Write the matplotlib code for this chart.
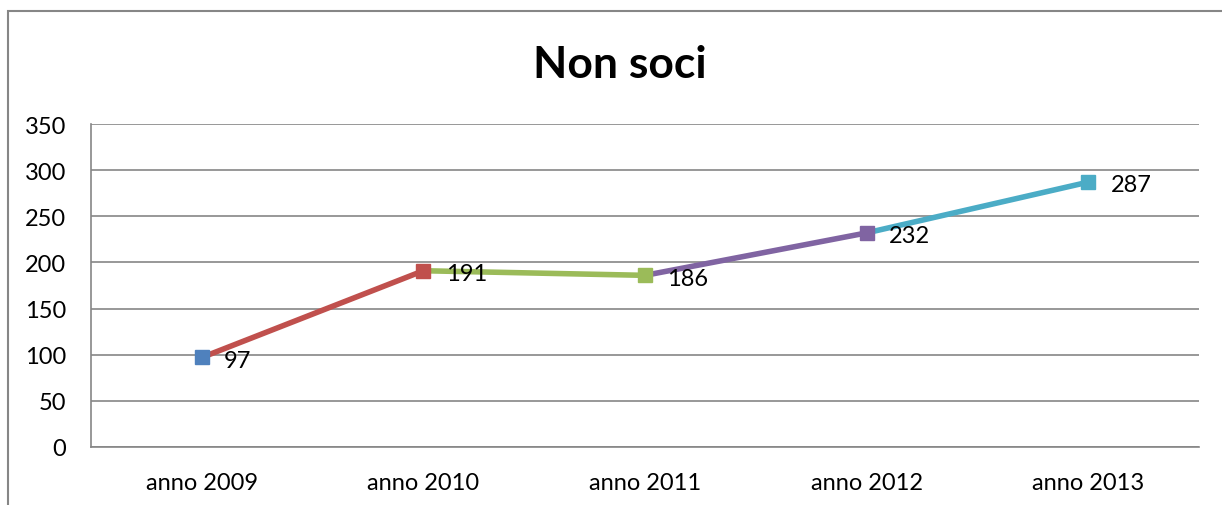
import matplotlib.pyplot as plt
from matplotlib.patches import Rectangle

# data
categories = ['anno 2009', 'anno 2010', 'anno 2011', 'anno 2012', 'anno 2013']
values = [97, 191, 186, 232, 287]
point_colors = ['#4F81BD', '#C0504D', '#9BBB59', '#8064A2', '#4BACC6']

plt.rcParams['font.family'] = ['Lato', 'DejaVu Sans']

W, H = 1222, 506
fig = plt.figure(figsize=(W / 100, H / 100), dpi=100)

# outer chart border (cut off on right and bottom)
fig.add_artist(Rectangle((8 / W, -0.1), 1.2, 1 - 12 / H + 0.1,
                         transform=fig.transFigure, fill=False,
                         edgecolor='#868686', linewidth=1.5))

ax = fig.add_axes([91 / W, 1 - 448 / H, (1199 - 91) / W, (448 - 125) / H])
x = range(len(values))

# each segment takes the colour of the point it ends on
for i in range(1, len(values)):
    ax.plot([i - 1, i], values[i - 1:i + 1], color=point_colors[i],
            linewidth=4, solid_capstyle='butt', zorder=3)
for i, v in enumerate(values):
    ax.plot(i, v, marker='s', markersize=10, color=point_colors[i],
            linestyle='none', zorder=4)
    ax.annotate(str(v), (i, v), xytext=(16, -2), textcoords='offset points',
                ha='left', va='center', fontsize=17, color='black', zorder=5)

ax.set_xlim(-0.5, len(values) - 0.5)
ax.set_ylim(0, 350)
ax.set_yticks(range(0, 351, 50))
ax.set_xticks(list(x))
ax.set_xticklabels(categories)
ax.tick_params(axis='both', length=0, labelsize=17, colors='black')
ax.tick_params(axis='y', pad=18)
ax.tick_params(axis='x', pad=18)
ax.grid(axis='y', color='#868686', linewidth=1.2)
ax.set_axisbelow(True)
for s in ['top', 'right']:
    ax.spines[s].set_visible(False)
for s in ['left', 'bottom']:
    ax.spines[s].set_color('#868686')
    ax.spines[s].set_linewidth(1.2)

fig.text(620 / W, 1 - 65 / H, 'Non soci', ha='center', va='center',
         fontsize=32, fontweight='bold')

fig.savefig('out.png', dpi=100)
